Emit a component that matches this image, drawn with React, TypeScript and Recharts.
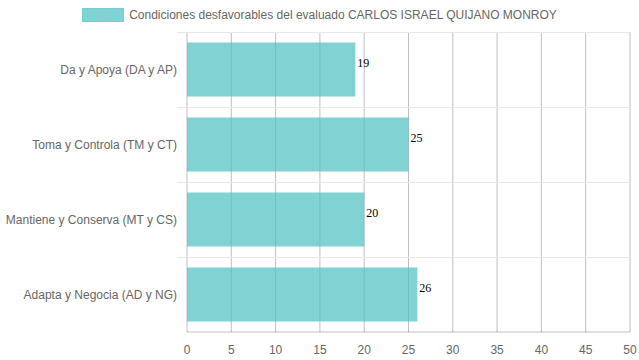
import { BarChart, Bar, XAxis, YAxis, CartesianGrid, LabelList, usePlotArea } from 'recharts';

const categories = ['Da y Apoya (DA y AP)', 'Toma y Controla (TM y CT)', 'Mantiene y Conserva (MT y CS)', 'Adapta y Negocia (AD y NG)'];
const values = [19, 25, 20, 26];
const xTicks = [0, 5, 10, 15, 20, 25, 30, 35, 40, 45, 50];
const seriesName = 'Condiciones desfavorables del evaluado CARLOS ISRAEL QUIJANO MONROY';

const data = categories.map((name, i) => ({ name, value: values[i] }));

const sans = 'Arial, "Liberation Sans", Helvetica, sans-serif';

function CategoryTick({ x, y, payload }: any) {
  return (
    <text x={x} y={y} dy={4} textAnchor="end" fontSize={12} fill="#666" fontFamily={sans}>
      {payload.value}
    </text>
  );
}

// lines on the category band edges, running 10px past the left of the plot
function BandLines() {
  const area = usePlotArea();
  if (!area) return null;
  const step = area.height / categories.length;
  return (
    <g>
      {[0, 1, 2, 3].map((i) => (
        <line
          key={i}
          x1={area.x - 10}
          x2={area.x + area.width}
          y1={area.y + i * step + 0.5}
          y2={area.y + i * step + 0.5}
          stroke="#e8e8e8"
        />
      ))}
    </g>
  );
}

export default function App() {
  return (
    <div style={{ position: 'absolute', left: 0, top: 0, width: 639, height: 360 }}>
      <div
        style={{
          position: 'absolute', top: 8, left: 0, width: 639, display: 'flex', alignItems: 'center',
          justifyContent: 'center', fontFamily: sans, fontSize: 12, color: '#666', lineHeight: '14px',
        }}
      >
        <span style={{ display: 'inline-block', width: 40, height: 12, background: 'rgba(75,192,192,0.7)', border: '1px solid rgba(75,192,192,0.2)', marginRight: 5 }} />
        <span>{seriesName}</span>
      </div>
      <BarChart
        width={639}
        height={360}
        data={data}
        layout="vertical"
        barCategoryGap="14%"
        margin={{ top: 32, right: 9, bottom: 0, left: 0 }}
      >
        <BandLines />
        <CartesianGrid horizontal={false} stroke="rgba(0,0,0,0.25)" />
        <XAxis
          type="number"
          domain={[0, 50]}
          ticks={xTicks}
          interval={0}
          height={28}
          tick={(p: any) => (
            <text x={p.x} y={p.y + 14} textAnchor="middle" fontSize={12} fill="#666" fontFamily={sans}>
              {p.payload.value}
            </text>
          )}
          tickLine={false}
          axisLine={{ stroke: 'rgba(0,0,0,0.25)' }}
        />
        <YAxis
          type="category"
          dataKey="name"
          width={187}
          tick={<CategoryTick />}
          tickLine={false}
          tickSize={0}
          tickMargin={10}
          axisLine={false}
        />
        <Bar dataKey="value" name={seriesName} fill="rgb(75,192,192)" fillOpacity={0.7} isAnimationActive={false}>
          <LabelList dataKey="value" position="right" offset={2} dy={-7} style={{ fontFamily: '"Liberation Serif", "DejaVu Serif", serif', fontSize: 12, fill: '#000' }} />
        </Bar>
      </BarChart>
    </div>
  );
}
